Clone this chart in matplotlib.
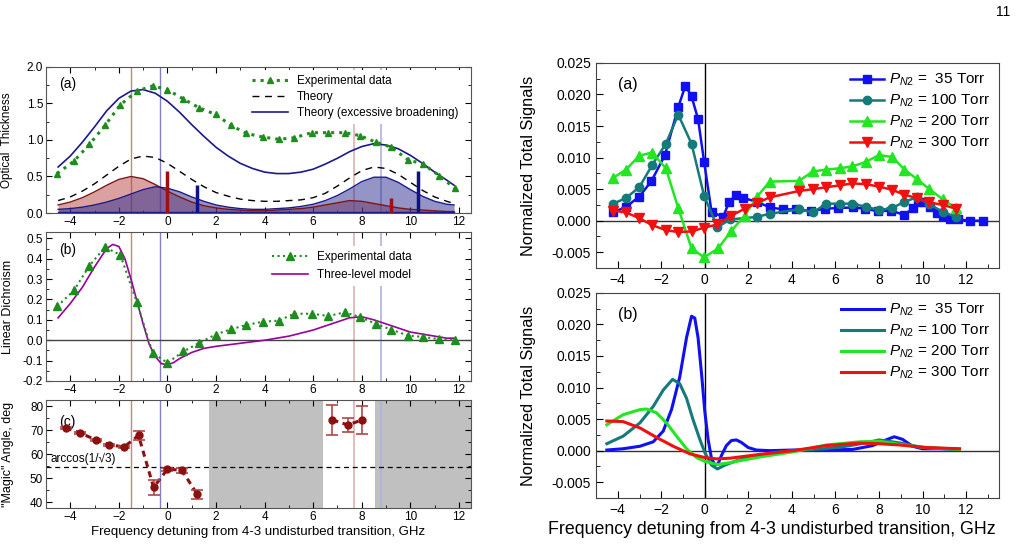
import matplotlib.pyplot as plt
import numpy as np

plt.rcParams['font.family'] = ['Liberation Sans', 'DejaVu Sans']
plt.rcParams['mathtext.fontset'] = 'custom'
plt.rcParams['mathtext.rm'] = 'Liberation Sans'
plt.rcParams['mathtext.it'] = 'Liberation Sans:italic'

# ---------------- left (a): optical thickness ----------------
od_exp_x = [-4.54, -3.85, -3.21, -2.57, -1.94, -1.26, -0.61, 0.0, 0.66, 1.31, 1.98, 2.62, 3.25,
            3.93, 4.58, 5.22, 5.94, 6.63, 7.31, 7.92, 8.58, 9.22, 9.90, 10.52, 11.2, 11.82]
od_exp_y = [0.54, 0.71, 0.94, 1.20, 1.48, 1.67, 1.74, 1.69, 1.56, 1.44, 1.35, 1.20, 1.09,
            1.04, 1.01, 1.03, 1.10, 1.10, 1.10, 1.06, 0.97, 0.90, 0.73, 0.67, 0.51, 0.34]

th_x = [-4.5, -4.0, -3.5, -3.0, -2.5, -2.0, -1.5, -1.0, -0.5, 0.0, 0.5, 1.0, 1.5, 2.0, 2.5, 3.0, 3.5,
        4.0, 4.5, 5.0, 5.5, 6.0, 6.5, 7.0, 7.5, 8.0, 8.5, 9.0, 9.5, 10.0, 10.5, 11.0, 11.5, 11.8]
th_broad = [0.63, 0.78, 0.97, 1.18, 1.40, 1.57, 1.67, 1.69, 1.64, 1.53, 1.38, 1.21, 1.05, 0.90, 0.78,
            0.68, 0.61, 0.56, 0.54, 0.54, 0.56, 0.60, 0.67, 0.75, 0.84, 0.91, 0.95, 0.93, 0.88, 0.79,
            0.68, 0.56, 0.45, 0.38]
th_plain = [0.17, 0.22, 0.30, 0.40, 0.52, 0.64, 0.74, 0.78, 0.76, 0.68, 0.57, 0.46, 0.36, 0.28, 0.23,
            0.19, 0.17, 0.16, 0.16, 0.17, 0.18, 0.21, 0.27, 0.37, 0.48, 0.58, 0.63, 0.61, 0.53, 0.42,
            0.31, 0.22, 0.16, 0.13]
comp_red = [0.11, 0.15, 0.21, 0.29, 0.38, 0.46, 0.50, 0.47, 0.39, 0.30, 0.22, 0.15, 0.10, 0.07, 0.05,
            0.04, 0.03, 0.03, 0.04, 0.05, 0.06, 0.08, 0.11, 0.14, 0.17, 0.16, 0.13, 0.10, 0.07, 0.05,
            0.04, 0.03, 0.02, 0.02]
comp_blue = [0.05, 0.06, 0.08, 0.11, 0.15, 0.20, 0.26, 0.32, 0.36, 0.34, 0.29, 0.22, 0.16, 0.11, 0.08,
             0.06, 0.05, 0.05, 0.06, 0.07, 0.09, 0.12, 0.17, 0.24, 0.33, 0.43, 0.49, 0.49, 0.42, 0.32,
             0.23, 0.16, 0.12, 0.11]
stick_red_x = [0.0, 9.2]
stick_red_h = [0.57, 0.20]
stick_blue_x = [1.2, 10.3]
stick_blue_h = [0.39, 0.57]

# ---------------- left (b): linear dichroism ----------------
ld_exp_x = od_exp_x
ld_exp_y = [0.166, 0.244, 0.366, 0.456, 0.419, 0.187, -0.062, -0.111, -0.055, -0.013, 0.028, 0.054,
            0.075, 0.091, 0.096, 0.130, 0.130, 0.119, 0.137, 0.114, 0.080, 0.052, 0.023, 0.016, 0.005,
            0.0]
ld_mod_x = [-4.5, -4.0, -3.5, -3.0, -2.5, -2.25, -2.0, -1.75, -1.5, -1.25, -1.0, -0.75, -0.5, -0.25,
            0.0, 0.25, 0.5, 1.0, 1.5, 2.0, 3.0, 4.0, 5.0, 6.0, 7.0, 7.5, 8.0, 8.5, 9.0, 9.5, 10.0,
            10.5, 11.0, 11.5, 11.8]
ld_mod_y = [0.11, 0.18, 0.26, 0.36, 0.45, 0.47, 0.46, 0.40, 0.30, 0.19, 0.08, -0.02, -0.08, -0.115,
            -0.12, -0.11, -0.09, -0.06, -0.04, -0.03, -0.015, 0.0, 0.02, 0.05, 0.09, 0.11, 0.115, 0.10,
            0.08, 0.06, 0.04, 0.03, 0.02, 0.01, 0.01]

# ---------------- left (c): magic angle ----------------
ma_x1 = [-4.19, -3.58, -2.96, -2.39, -1.78, -1.19, -0.57, 0.0, 0.59, 1.23]
ma_y1 = [71.0, 68.8, 66.0, 63.9, 63.0, 67.8, 46.1, 53.7, 53.3, 43.2]
ma_e1 = [0.5, 0.5, 0.5, 0.5, 0.5, 1.8, 3.0, 0.7, 1.0, 2.0]
ma_x2 = [6.79, 7.42, 8.03]
ma_y2 = [74.3, 72.2, 74.3]
ma_e2 = [6.3, 3.0, 5.7]
magic = 54.74

# ---------------- right (a): measured signals ----------------
s35_x = [-4.2, -3.62, -3.01, -2.45, -1.83, -1.22, -0.89, -0.61, -0.31, -0.03, 0.31, 0.84, 1.12, 1.42,
         1.76, 2.40, 2.98, 3.59, 4.2, 4.89, 5.5, 6.12, 6.8, 7.34, 7.95, 8.56, 9.17, 9.56, 9.79, 10.09,
         10.35, 10.66, 10.96, 11.27, 11.62, 12.19, 12.77]
s35_y = [0.0013, 0.0022, 0.0038, 0.0063, 0.0104, 0.0180, 0.0214, 0.0197, 0.0161, 0.0093, 0.0014,
         0.0006, 0.0030, 0.0040, 0.0036, 0.0030, 0.0021, 0.0018, 0.0018, 0.0015, 0.0019, 0.0020, 0.0021,
         0.0019, 0.0015, 0.0016, 0.0009, 0.0020, 0.0029, 0.0030, 0.0021, 0.0012, 0.0007, 0.0003,
         0.0002, 0.0, 0.0]
s100_x = [-4.2, -3.62, -3.01, -2.42, -1.79, -1.22, -0.61, -0.03, 0.58, 1.18, 2.4, 2.98, 4.32, 4.97,
          5.58, 6.2, 6.77, 7.39, 8.0, 8.61, 9.17, 9.74, 10.32, 10.93, 11.54]
s100_y = [0.0027, 0.0036, 0.0053, 0.0088, 0.0122, 0.0168, 0.0122, 0.0039, -0.0010, 0.0002, 0.0006,
          0.0011, 0.0018, 0.0013, 0.0027, 0.0027, 0.0027, 0.0022, 0.0017, 0.0020, 0.0030, 0.0037,
          0.0026, 0.0014, 0.0006]
s200_x = [-4.2, -3.62, -3.01, -2.42, -1.79, -1.22, -0.61, -0.03, 0.61, 1.22, 1.83, 2.4, 2.98, 4.32,
          4.97, 5.58, 6.2, 6.77, 7.39, 8.0, 8.61, 9.17, 9.74, 10.32, 10.93, 11.54]
s200_y = [0.0068, 0.0081, 0.0103, 0.0108, 0.0083, 0.0020, -0.0044, -0.0058, -0.0044, -0.0016,
          0.0008, 0.0038, 0.0062, 0.0063, 0.0078, 0.0081, 0.0083, 0.0086, 0.0093, 0.0104, 0.0101,
          0.0081, 0.0066, 0.0050, 0.0034, 0.0020]
s300_x = [-4.2, -3.62, -3.01, -2.42, -1.79, -1.22, -0.61, -0.03, 0.58, 1.22, 1.83, 2.4, 2.98, 4.32,
          4.97, 5.58, 6.2, 6.77, 7.39, 8.0, 8.61, 9.17, 9.74, 10.32, 10.93, 11.54]
s300_y = [0.0016, 0.0013, 0.0004, -0.0007, -0.0015, -0.0018, -0.0017, -0.0011, -0.0006, 0.0008,
          0.0019, 0.0028, 0.0037, 0.0047, 0.0050, 0.0053, 0.0056, 0.0059, 0.0058, 0.0054, 0.0049,
          0.0041, 0.0036, 0.0029, 0.0025, 0.0019]

# ---------------- right (b): model signals ----------------
m35_x = [-4.5, -3.75, -2.98, -2.37, -1.91, -1.53, -1.15, -0.84, -0.61, -0.46, -0.31, -0.15, 0.0,
         0.15, 0.31, 0.46, 0.61, 0.76, 0.99, 1.22, 1.45, 1.68, 1.99, 2.37, 3.0, 4.05, 5.58, 6.8, 7.71,
         8.32, 8.7, 9.08, 9.54, 10.0, 10.78, 11.7]
m35_y = [0.0001, 0.0003, 0.0007, 0.0014, 0.0031, 0.0065, 0.0117, 0.0179, 0.0213, 0.0210, 0.0179,
         0.0122, 0.0062, 0.0018, -0.0013, -0.0022, -0.0021, -0.0008, 0.0008, 0.0016, 0.0017, 0.0013,
         0.0005, 0.0001, 0.0, 0.0001, 0.0001, 0.0002, 0.0008, 0.0017, 0.0022, 0.0018, 0.0007, 0.0003,
         0.0003, 0.0002]
m100_x = [-4.5, -3.75, -2.98, -2.37, -1.91, -1.48, -1.15, -0.84, -0.54, -0.23, 0.0, 0.31, 0.58,
          0.92, 1.45, 2.37, 3.2, 4.05, 5.5, 6.5, 7.5, 8.0, 9.0, 10.0, 11.7]
m100_y = [0.0011, 0.0023, 0.0044, 0.0070, 0.0096, 0.0113, 0.0106, 0.0083, 0.0049, 0.0018, -0.0003,
          -0.0023, -0.0029, -0.0023, -0.0016, -0.0008, -0.0003, 0.0, 0.0003, 0.0007, 0.0013, 0.0017,
          0.0012, 0.0005, 0.0002]
m200_x = [-4.5, -3.75, -2.98, -2.68, -2.22, -1.76, -1.3, -0.84, -0.38, 0.0, 0.58, 1.15, 2.06, 2.52,
          4.05, 5.58, 7.1, 8.0, 8.94, 10.15, 11.7]
m200_y = [0.0041, 0.0057, 0.0065, 0.0066, 0.0060, 0.0044, 0.0023, 0.0003, -0.0011, -0.0017, -0.0022,
          -0.0019, -0.0013, -0.0010, -0.0002, 0.0009, 0.0014, 0.0015, 0.0010, 0.0005, 0.0002]
m300_x = [-4.5, -3.75, -2.98, -2.22, -1.45, -0.69, 0.0, 0.54, 1.15, 2.06, 2.52, 4.05, 5.58, 7.1, 8.0,
          8.94, 10.15, 11.7]
m300_y = [0.0047, 0.0046, 0.0036, 0.0021, 0.0007, -0.0005, -0.0011, -0.0013, -0.0012, -0.0008,
          -0.0006, 0.0, 0.0008, 0.0012, 0.0011, 0.0009, 0.0005, 0.0003]

series_labels = [r'$P_{N2}$ =  35 Torr', r'$P_{N2}$ = 100 Torr',
                 r'$P_{N2}$ = 200 Torr', r'$P_{N2}$ = 300 Torr']

green_dark = '#1e8c1e'
navy = '#1a1a8c'
dred = '#8b1010'
c35, c100, c200, c300 = '#1010f0', '#157a7a', '#22e622', '#f01010'

fig = plt.figure(figsize=(10.17, 5.47), dpi=100)


def style_left(ax):
    ax.set_xlim(-5, 12.5)
    ax.set_xticks(range(-4, 13, 2))
    ax.set_xticks(range(-5, 13), minor=True)
    ax.tick_params(which='both', direction='in', top=True, right=True, labelsize=8.5, pad=2)
    ax.tick_params(which='major', length=4)
    ax.tick_params(which='minor', length=2)
    for s in ax.spines.values():
        s.set_color('#555555')


def vlines_left(ax):
    ax.axvline(-1.5, color='#d08080', lw=1, zorder=1)
    ax.axvline(-0.3, color='#8080c8', lw=1, zorder=1)
    ax.axvline(7.7, color='#e0b0b0', lw=1.2, zorder=1)
    ax.axvline(8.8, color='#b0b0e4', lw=1.2, zorder=1)


# left (a)
ax1 = fig.add_axes([0.0452, 0.6106, 0.418, 0.267])
style_left(ax1)
vlines_left(ax1)
ax1.fill_between(th_x, 0, comp_red, color='#b84444', alpha=0.5, lw=0, zorder=2)
ax1.plot(th_x, comp_red, color='#7a1515', lw=1, zorder=3)
ax1.fill_between(th_x, 0, comp_blue, color='#2a2a90', alpha=0.5, lw=0, zorder=2)
ax1.plot(th_x, comp_blue, color=navy, lw=1, zorder=3)
ax1.plot([th_x[0], th_x[-1]], [0.012, 0.012], color=navy, lw=1, zorder=3)
ax1.vlines(stick_red_x, 0, stick_red_h, color='#a01010', lw=2.5, zorder=4)
ax1.vlines(stick_blue_x, 0, stick_blue_h, color='#10108a', lw=2.5, zorder=4)
ax1.plot(th_x, th_plain, color='black', lw=1, ls=(0, (5, 4)), zorder=4, label='Theory')
ax1.plot(th_x, th_broad, color=navy, lw=1.2, zorder=4, label='Theory (excessive broadening)')
ax1.plot(od_exp_x, od_exp_y, color=green_dark, ls=':', lw=2.2, marker='^', ms=5, zorder=5,
         label='Experimental data')
h, l = ax1.get_legend_handles_labels()
leg = ax1.legend([h[2], h[0], h[1]], [l[2], l[0], l[1]], loc='upper right', fontsize=8.5,
                 frameon=True, fancybox=False, edgecolor='none', facecolor='white', framealpha=1,
                 handlelength=3, borderaxespad=0.3, labelspacing=0.35, bbox_to_anchor=(0.99, 1.0))
leg.set_zorder(6)
ax1.set_ylim(0, 2.0)
ax1.set_yticks(np.arange(0, 2.01, 0.5))
ax1.set_yticks(np.arange(0, 2.01, 0.25), minor=True)
ax1.yaxis.set_major_formatter(plt.FormatStrFormatter('%.1f'))
ax1.set_ylabel('Optical  Thickness', fontsize=8.5)
ax1.yaxis.set_label_coords(-0.078, 0.5)
ax1.text(0.03, 0.93, '(a)', transform=ax1.transAxes, fontsize=10, va='top')

# left (b)
ax2 = fig.add_axes([0.0452, 0.3035, 0.418, 0.272])
style_left(ax2)
vlines_left(ax2)
ax2.axhline(0, color='#444444', lw=1, zorder=2)
ax2.plot(ld_mod_x, ld_mod_y, color='#9a009a', lw=1.2, zorder=3, label='Three-level model')
ax2.plot(ld_exp_x, ld_exp_y, color=green_dark, ls=':', lw=1.5, marker='^', ms=6, zorder=4,
         label='Experimental data')
h, l = ax2.get_legend_handles_labels()
leg = ax2.legend([h[1], h[0]], [l[1], l[0]], loc='upper right', fontsize=8.5, frameon=True,
                 fancybox=False, edgecolor='none', facecolor='white', framealpha=1,
                 handlelength=3, borderaxespad=0.3, bbox_to_anchor=(0.88, 0.93), labelspacing=0.5)
leg.set_zorder(6)
ax2.set_ylim(-0.2, 0.53)
ax2.set_yticks(np.arange(-0.2, 0.51, 0.1))
ax2.set_yticks(np.arange(-0.2, 0.51, 0.05), minor=True)
ax2.yaxis.set_major_formatter(plt.FormatStrFormatter('%.1f'))
ax2.set_ylabel('Linear Dichroism', fontsize=9)
ax2.yaxis.set_label_coords(-0.075, 0.5)
ax2.text(0.03, 0.93, '(b)', transform=ax2.transAxes, fontsize=10, va='top')

# left (c)
ax3 = fig.add_axes([0.0452, 0.0713, 0.418, 0.197])
style_left(ax3)
ax3.axvspan(1.7, 6.4, color='#c0c0c0', lw=0, zorder=0)
ax3.axvspan(8.55, 12.5, color='#c0c0c0', lw=0, zorder=0)
vlines_left(ax3)
ax3.axhline(magic, color='black', lw=0.9, ls=(0, (4, 3)), zorder=2)
ax3.text(-4.8, magic + 0.6, 'arccos(1/\u221a3)', fontsize=8.5, va='bottom')
for xs, ys, es in [(ma_x1, ma_y1, ma_e1), (ma_x2, ma_y2, ma_e2)]:
    ax3.plot(xs, ys, color=dred, ls=(0, (2, 1.5)), lw=2.2, zorder=3)
    ax3.errorbar(xs, ys, yerr=es, fmt='o', color=dred, ms=5, ecolor='#b04848', elinewidth=1.2,
                 capsize=4, capthick=1.2, zorder=4)
ax3.set_ylim(37.5, 82.5)
ax3.set_yticks(range(40, 81, 10))
ax3.set_yticks(range(40, 81, 5), minor=True)
ax3.set_ylabel('"Magic" Angle, deg', fontsize=9)
ax3.yaxis.set_label_coords(-0.075, 0.5)
ax3.set_xlabel('Frequency detuning from 4-3 undisturbed transition, GHz', fontsize=9.5, labelpad=2)
ax3.text(0.03, 0.86, '(c)', transform=ax3.transAxes, fontsize=10, va='top')


def style_right(ax):
    ax.set_xlim(-5, 13.5)
    ax.set_ylim(-0.007, 0.025)
    ax.set_xticks(range(-4, 13, 2))
    ax.set_xticks(range(-5, 14), minor=True)
    ax.set_yticks(np.arange(-0.005, 0.0251, 0.005))
    ax.set_yticks(np.arange(-0.0075, 0.0251, 0.0025), minor=True)
    ax.yaxis.set_major_formatter(plt.FormatStrFormatter('%.3f'))
    ax.tick_params(which='both', direction='in', labelsize=10)
    ax.tick_params(which='major', length=5)
    ax.tick_params(which='minor', length=3)
    ax.axvline(0, color='black', lw=1, zorder=1)
    ax.axhline(0, color='#333333', lw=1, zorder=1)
    ax.set_ylabel('Normalized Total Signals', fontsize=11.8)
    ax.yaxis.set_label_coords(-0.15, 0.5)
    for s in ax.spines.values():
        s.set_color('#444444')


# right (a)
ax4 = fig.add_axes([0.586, 0.510, 0.396, 0.375])
style_right(ax4)
ax4.plot(s35_x, s35_y, color=c35, marker='s', ms=6, lw=1.8, label=series_labels[0])
ax4.plot(s100_x, s100_y, color=c100, marker='o', ms=6, lw=1.8, label=series_labels[1])
ax4.plot(s200_x, s200_y, color=c200, marker='^', ms=7, lw=1.8, label=series_labels[2])
ax4.plot(s300_x, s300_y, color=c300, marker='v', ms=7, lw=1.8, label=series_labels[3])
ax4.legend(loc='upper right', fontsize=11, frameon=False, handlelength=2.2, handletextpad=0.3,
           borderaxespad=0.2, labelspacing=0.3)
ax4.text(0.055, 0.93, '(a)', transform=ax4.transAxes, fontsize=11.5, va='top')

# right (b)
ax5 = fig.add_axes([0.586, 0.0896, 0.396, 0.375])
style_right(ax5)
ax5.plot(m35_x, m35_y, color=c35, lw=2.2, label=series_labels[0])
ax5.plot(m100_x, m100_y, color=c100, lw=2.2, label=series_labels[1])
ax5.plot(m200_x, m200_y, color=c200, lw=2.2, label=series_labels[2])
ax5.plot(m300_x, m300_y, color=c300, lw=2.2, label=series_labels[3])
ax5.legend(loc='upper right', fontsize=11, frameon=False, handlelength=2.8, handletextpad=0.3,
           borderaxespad=0.2, labelspacing=0.3)
ax5.text(0.055, 0.93, '(b)', transform=ax5.transAxes, fontsize=11.5, va='top')
ax5.set_xlabel('Frequency detuning from 4-3 undisturbed transition, GHz', fontsize=12.8)
ax5.xaxis.set_label_coords(0.437, -0.112)

fig.text(0.986, 0.978, '11', fontsize=10, ha='center', va='center')

fig.savefig('out.png', dpi=100)
